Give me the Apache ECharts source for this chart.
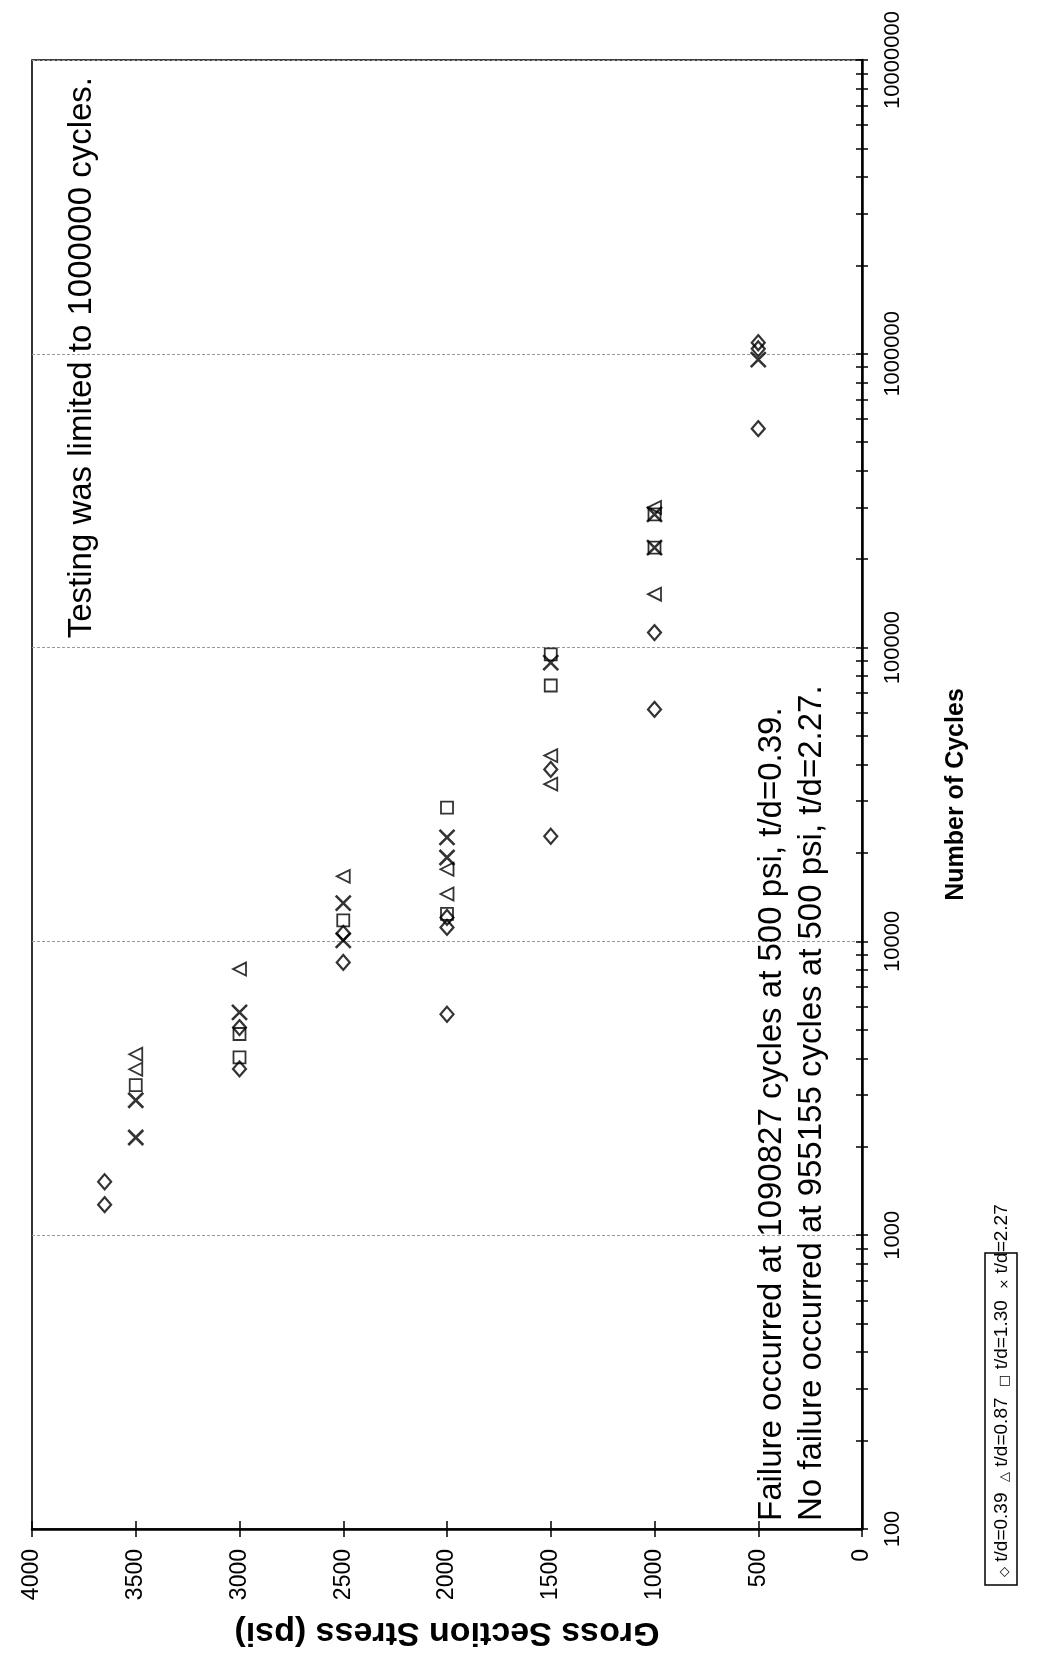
<!DOCTYPE html>
<html>
<head>
<meta charset="utf-8">
<script src="https://cdn.jsdelivr.net/npm/echarts@6/dist/echarts.min.js"></script>
<style>html,body{margin:0;padding:0;background:#fff}#c{width:1037px;height:1660px}</style>
</head>
<body>
<div id="c"></div>
<script>
// ---- data ----
const seriesNames = ['t/d=0.39', 't/d=0.87', 't/d=1.30', 't/d=2.27'];
const legendGlyphs = ['\u25C7', '\u25B3', '\u25A1', '\u00D7'];

const stress039 = [3650, 3650, 3000, 3000, 2500, 2500, 2000, 2000, 2000, 1500, 1500, 1000, 1000, 500, 500, 500];
const cycles039 = [1520, 1270, 3680, 5090, 10650, 8480, 12070, 11160, 5650, 38500, 22800, 112500, 61600, 1090827, 1040000, 556000];

const stress087 = [3500, 3500, 3000, 2500, 2000, 2000, 1500, 1500, 1000, 1000];
const cycles087 = [3670, 4130, 8050, 16650, 17600, 14500, 42900, 34300, 152000, 300000];

const stress130 = [3500, 3000, 3000, 2500, 2000, 2000, 1500, 1500, 1000, 1000];
const cycles130 = [3240, 4840, 4030, 11800, 28550, 12400, 94900, 74300, 284000, 219000];

const stress227 = [3500, 3500, 3000, 2500, 2500, 2000, 2000, 1500, 1000, 1000, 500];
const cycles227 = [2150, 2880, 5730, 13500, 10080, 22600, 19300, 88900, 284000, 219000, 955155];

const stressTicks = { min: 0, max: 4000, interval: 500 };
const cycleRange = { min: 100, max: 10000000 };
const decades = [100, 1000, 10000, 100000, 1000000];
const minorMultipliers = [1, 2, 3, 4, 5, 6, 7, 8, 9];

const noteTesting = 'Testing was limited to 1000000 cycles.';
const noteFailure = 'Failure occurred at 1090827 cycles at 500 psi, t/d=0.39.';
const noteNoFailure = 'No failure occurred at 955155 cycles at 500 psi, t/d=2.27.';
const stressTitle = 'Gross Section Stress (psi)';
const cyclesTitle = 'Number of Cycles';

// ---- build ----
const FONT = '"Liberation Sans", Arial, sans-serif';
const logTicks = [];
decades.forEach(d => minorMultipliers.forEach(m => logTicks.push(m * d)));
logTicks.push(cycleRange.max);

function zip(a, b) { return a.map((v, i) => [v, b[i]]); }

const seriesDefs = [
  { data: zip(stress039, cycles039), symbol: 'diamond', symbolSize: [13, 15], symbolRotate: 0, bw: 2.2 },
  { data: zip(stress087, cycles087), symbol: 'triangle', symbolSize: 13, symbolRotate: 90, bw: 1.8 },
  { data: zip(stress130, cycles130), symbol: 'rect', symbolSize: 12, symbolRotate: 0, bw: 1.8 },
  { data: zip(stress227, cycles227), symbol: 'path://M0,0L10,10M10,0L0,10', symbolSize: 15, symbolRotate: 0, bw: 2.6 }
];

const series = seriesDefs.map((d, i) => ({
  type: 'scatter',
  name: seriesNames[i],
  xAxisIndex: 0,
  yAxisIndex: 0,
  data: d.data,
  symbol: d.symbol,
  symbolSize: d.symbolSize,
  symbolRotate: d.symbolRotate,
  itemStyle: { color: 'rgba(0,0,0,0)', borderColor: '#000', borderWidth: d.bw },
  emphasis: { disabled: true },
  silent: true
}));

const legendText = seriesNames.map((n, i) => '{s|' + legendGlyphs[i] + '}{t| ' + n + '  }').join('');

const logTickAxis = (inside) => ({
  type: 'log', logBase: 10, position: 'right',
  min: cycleRange.min, max: cycleRange.max,
  axisLine: { show: false, onZero: false },
  axisTick: { show: true, inside: inside, length: 6, customValues: logTicks, lineStyle: { color: '#000', width: 1.5 } },
  axisLabel: { show: false },
  splitLine: { show: false }
});

const chart = echarts.init(document.getElementById('c'));
chart.setOption({
  animation: false,
  backgroundColor: '#fff',
  grid: { left: 32, right: 175, top: 60, bottom: 131, show: true, borderColor: '#000', borderWidth: 1.6, backgroundColor: 'transparent' },
  xAxis: [
    {
      type: 'value', position: 'bottom', inverse: true,
      min: stressTicks.min, max: stressTicks.max, interval: stressTicks.interval,
      axisLine: { show: true, onZero: false, lineStyle: { color: '#000', width: 2.5 } },
      axisTick: { show: true, length: 8, lineStyle: { color: '#000', width: 1.5 } },
      axisLabel: { rotate: 90, margin: 20, fontSize: 23, color: '#000', fontFamily: FONT, formatter: v => String(v) },
      splitLine: { show: false },
      name: stressTitle, nameLocation: 'middle', nameRotate: 180, nameGap: 86,
      nameTextStyle: { fontSize: 34, fontWeight: 'bold', color: '#000', fontFamily: FONT }
    },
    {
      type: 'value', position: 'bottom', inverse: true,
      min: stressTicks.min, max: stressTicks.max, interval: stressTicks.interval,
      axisLine: { show: false, onZero: false },
      axisTick: { show: true, inside: true, length: 8, lineStyle: { color: '#000', width: 1.5 } },
      axisLabel: { show: false },
      splitLine: { show: false }
    }
  ],
  yAxis: [
    {
      type: 'log', logBase: 10, position: 'right',
      min: cycleRange.min, max: cycleRange.max,
      axisLine: { show: true, onZero: false, lineStyle: { color: '#000', width: 2.5 } },
      axisTick: { show: false },
      axisLabel: { rotate: 90, margin: 20, fontSize: 22, color: '#000', fontFamily: FONT, formatter: v => String(Math.round(v)) },
      splitLine: { show: true, lineStyle: { color: '#9a9a9a', width: 1, type: [3, 2] } },
      name: cyclesTitle, nameLocation: 'middle', nameRotate: 90, nameGap: 82,
      nameTextStyle: { fontSize: 25, fontWeight: 'bold', color: '#000', fontFamily: FONT }
    },
    logTickAxis(false),
    logTickAxis(true)
  ],
  series: series,
  graphic: [
    {
      type: 'text', x: 82, y: 77, rotation: Math.PI / 2, silent: true,
      style: { text: noteTesting, fontSize: 33, fontFamily: FONT, fill: '#000', align: 'right', textAlign: 'right', verticalAlign: 'middle', textVerticalAlign: 'middle' }
    },
    {
      type: 'text', x: 772, y: 1521, rotation: Math.PI / 2, silent: true,
      style: { text: noteFailure, fontSize: 33, fontFamily: FONT, fill: '#000', align: 'left', textAlign: 'left', verticalAlign: 'middle', textVerticalAlign: 'middle' }
    },
    {
      type: 'text', x: 812, y: 1521, rotation: Math.PI / 2, silent: true,
      style: { text: noteNoFailure, fontSize: 33, fontFamily: FONT, fill: '#000', align: 'left', textAlign: 'left', verticalAlign: 'middle', textVerticalAlign: 'middle' }
    },
    {
      type: 'group', x: 985, y: 1585, rotation: Math.PI / 2, silent: true,
      children: [
        { type: 'rect', shape: { x: 0, y: 0, width: 332, height: 32 }, style: { fill: '#fff', stroke: '#000', lineWidth: 1.5 } },
        {
          type: 'text', x: 8, y: 17,
          style: {
            text: legendText, fill: '#000', align: 'left', textAlign: 'left', verticalAlign: 'middle', textVerticalAlign: 'middle',
            rich: {
              s: { fontSize: 13, fontFamily: '"DejaVu Sans", sans-serif', verticalAlign: 'bottom', padding: [6, 0, 0, 0] },
              t: { fontSize: 19, fontFamily: FONT }
            }
          }
        }
      ]
    }
  ]
});
</script>
</body>
</html>
